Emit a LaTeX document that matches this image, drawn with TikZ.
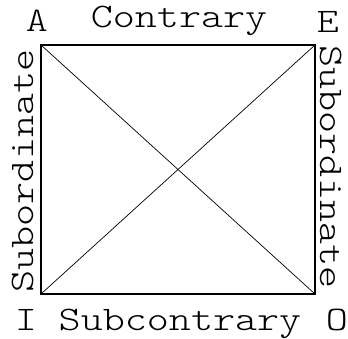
\documentclass[tikz,border=0pt]{standalone}
\usepackage{fontspec}
\usepackage{graphicx}
\newfontfamily\lightmono{lmmonolt10-regular.otf}
\newcommand{\labtext}[1]{\scalebox{1}[0.82]{\fontsize{42}{42}\selectfont\lightmono #1}}
\tikzset{
  lab/.style={inner sep=0pt, anchor=base},
  sqedge/.style={line width=1.1pt, draw=black},
  diag/.style={line width=0.7pt, draw=black}
}
\begin{document}
\begin{tikzpicture}[x=1pt,y=-1pt]
\useasboundingbox (0,0) rectangle (348,339);
\coordinate (a) at (41,45);
\coordinate (e) at (315,45);
\coordinate (o) at (315,294);
\coordinate (i) at (41,294);
\draw[sqedge] (a) -- (e) -- (o) -- (i) -- cycle;
\draw[diag] (a) -- (o);
\draw[diag] (e) -- (i);
\node[lab] (lA) at (37,32) {\labtext{A}};
\node[lab] (lE) at (328,33) {\labtext{E}};
\node[lab] (lC) at (179,28) {\labtext{Contrary}};
\node[lab] (lI) at (26,330) {\labtext{I}};
\node[lab] (lO) at (337,330) {\labtext{O}};
\node[lab] (lS) at (180,330) {\labtext{Subcontrary}};
\node[lab, rotate=90] (lL) at (33,171) {\labtext{Subordinate}};
\node[lab, rotate=-90] (lR) at (320,167) {\labtext{Subordinate}};
\end{tikzpicture}
\end{document}
